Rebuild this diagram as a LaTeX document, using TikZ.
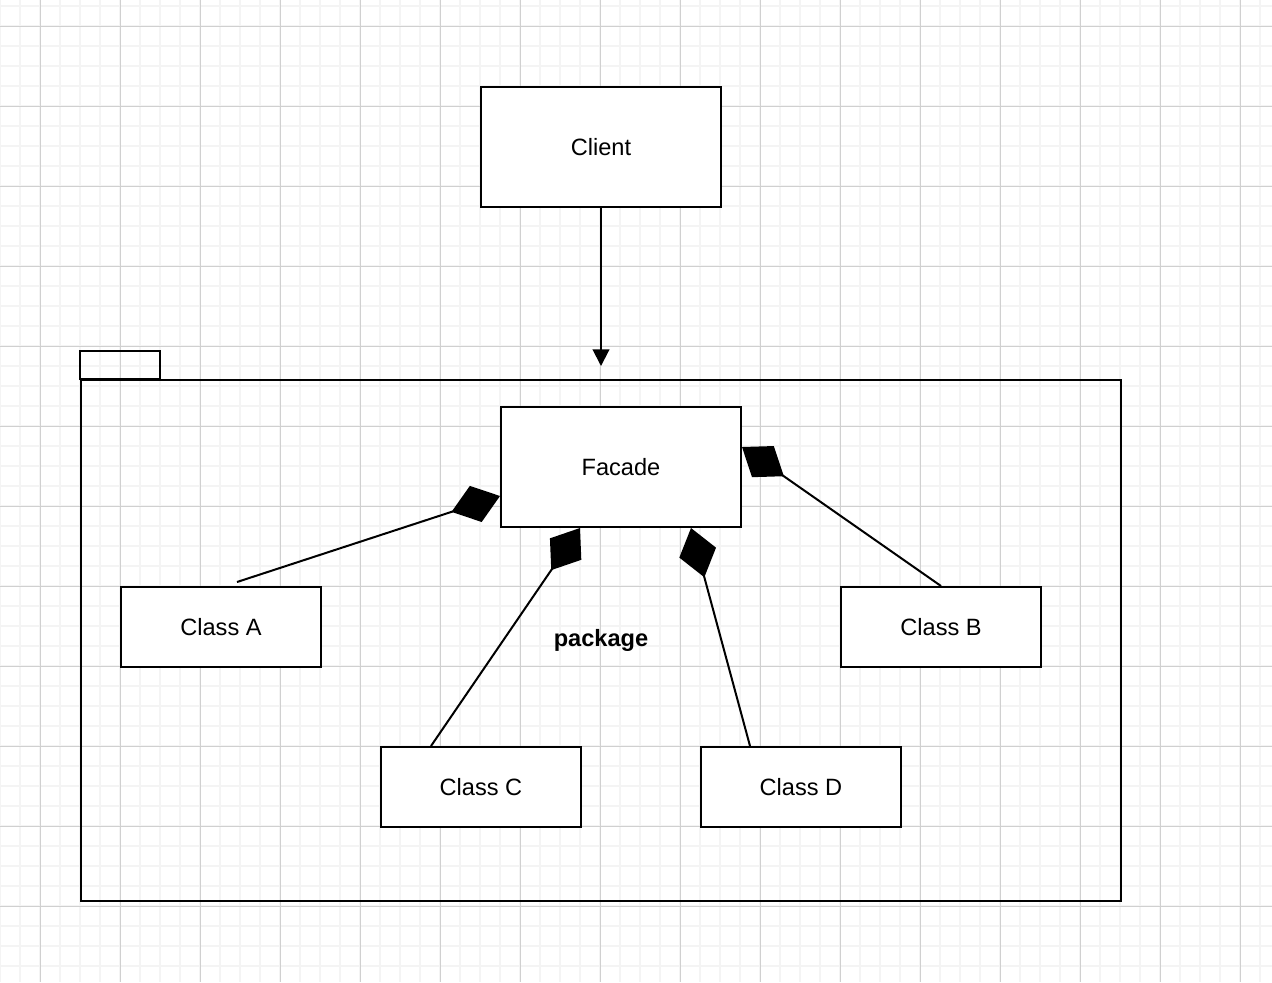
\documentclass[tikz,border=0pt]{standalone}
\usepackage{fontspec}
\setmainfont{Liberation Sans}
\usetikzlibrary{arrows.meta}
\definecolor{gridminor}{RGB}{244,244,244}
\definecolor{gridmajor}{RGB}{208,208,208}

\begin{document}
\begin{tikzpicture}[x=0.5pt,y=-0.5pt,line width=1pt,
  minor line/.style={draw=gridminor,line width=0.9pt},
  major line/.style={draw=gridmajor,line width=0.5pt},
  big node/.style={draw,fill=white,minimum width=120pt,minimum height=60pt,font=\fontsize{11.8}{14}\selectfont},
  class node/.style={big node,minimum width=100pt,minimum height=40pt},
  pkg node/.style={draw,minimum width=520pt,minimum height=260.5pt,font=\fontsize{11.8}{14}\selectfont\bfseries},
  comp/.style={draw,-{Diamond[length=25.5pt,width=19pt]}},
  uses/.style={draw,-{Triangle[length=8.3pt,width=8.3pt]}}]
  \useasboundingbox (0,0) rectangle (1272,982);
  \clip (0,0) rectangle (1272,982);
  \foreach \gx in {0,20,...,1260} \draw[minor line] (\gx,0) -- (\gx,982);
  \foreach \gy in {6,26,...,966} \draw[minor line] (0,\gy) -- (1272,\gy);
  \foreach \gx in {40,120,...,1240} \draw[major line] (\gx,0) -- (\gx,982);
  \foreach \gy in {26,106,...,906} \draw[major line] (0,\gy) -- (1272,\gy);

  \node[pkg node] (pkg) at (601,640.5) {package};
  \draw (pkg.north west) rectangle ++(80,-28);

  \node[big node] (client) at (601,147) {Client};
  \node[big node] (f) at (621,467) {Facade};
  \node[class node] (a) at (221,627) {Class A};
  \node[class node] (b) at (941,627) {Class B};
  \node[class node] (c) at (481,787) {Class C};
  \node[class node] (d) at (801,787) {Class D};
  \coordinate (in) at (601,366);

  \draw[uses] (client) -- (in);
  \path
    ([xshift=8pt,yshift=2pt]a.north) edge[comp] ([yshift=-14.5pt]f.west)
    (b.north) edge[comp] ([yshift=10pt]f.east)
    ([xshift=-25pt]c.north) edge[comp] ([xshift=-20.5pt]f.south)
    ([xshift=-25.5pt]d.north) edge[comp] ([xshift=35pt]f.south)
  ;
\end{tikzpicture}
\end{document}
